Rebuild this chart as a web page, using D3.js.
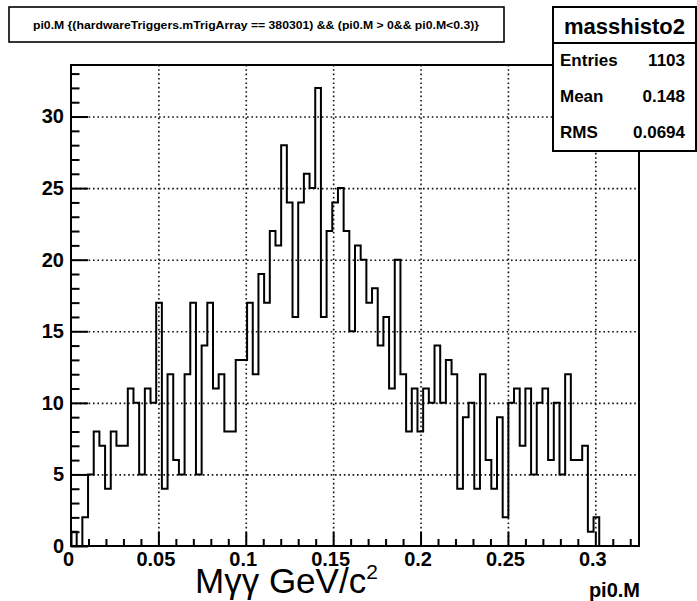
<!DOCTYPE html>
<html>
<head>
<meta charset="utf-8">
<script src="https://cdn.jsdelivr.net/npm/d3@7"></script>
<style>
    body { margin: 0; background: #fff; }
    svg { display: block; font-family: "Liberation Sans", Arial, Helvetica, sans-serif; }
</style>
</head>
<body>
<div id="chart"></div>
<script>
// Histogram contents (100 bins from 0 to 0.325).
var binCounts = [
    1, 0, 2, 5, 8, 7, 4, 8, 7, 7,
    11, 10, 5, 11, 10, 17, 4, 12, 6, 5,
    12, 17, 5, 14, 17, 11, 12, 8, 8, 13,
    13, 17, 12, 19, 17, 22, 21, 28, 24, 16,
    24, 26, 25, 32, 16, 22, 24, 25, 22, 15,
    21, 20, 17, 18, 14, 16, 11, 20, 12, 8,
    11, 8, 11, 10, 14, 10, 13, 12, 4, 9,
    10, 4, 12, 6, 4, 9, 2, 10, 11, 7,
    11, 5, 10, 11, 6, 10, 5, 12, 6, 6,
    7, 1, 2, 0, 0, 0, 0, 0, 0, 0
];
var xRange = [0, 0.325];
var yRange = [0, 33.6];

// Axis ticks and labels.
var xMajorTicks = [0, 0.05, 0.1, 0.15, 0.2, 0.25, 0.3];
var xTickLabels = ["0", "0.05", "0.1", "0.15", "0.2", "0.25", "0.3"];
var xMinorTicks = [0.01, 0.02, 0.03, 0.04, 0.06, 0.07, 0.08, 0.09, 0.11, 0.12, 0.13, 0.14,
    0.16, 0.17, 0.18, 0.19, 0.21, 0.22, 0.23, 0.24, 0.26, 0.27, 0.28, 0.29, 0.31, 0.32];
var yMajorTicks = [0, 5, 10, 15, 20, 25, 30];
var yMinorTicks = [1, 2, 3, 4, 6, 7, 8, 9, 11, 12, 13, 14, 16, 17, 18, 19,
    21, 22, 23, 24, 26, 27, 28, 29, 31, 32, 33];

// Texts.
var titleText = "pi0.M {(hardwareTriggers.mTrigArray == 380301) && (pi0.M > 0&& pi0.M<0.3)}";
var statsName = "masshisto2";
var statsRows = [["Entries", "1103"], ["Mean", "0.148"], ["RMS", "0.0694"]];
var axisName = "pi0.M";

// Frame geometry.
var width = 697, height = 601;
var frame = { left: 71, right: 639, top: 65, bottom: 546 };

var svg = d3.select("#chart").append("svg")
        .attr("width", width)
        .attr("height", height);

svg.append("rect")
        .attr("width", width)
        .attr("height", height)
        .style("fill", "#fff");

var x = d3.scaleLinear().domain(xRange).range([frame.left, frame.right]);
var y = d3.scaleLinear().domain(yRange).range([frame.bottom, frame.top]);
var frameW = frame.right - frame.left;
var frameH = frame.bottom - frame.top;

// Dotted grid at the major ticks.
var gridX = svg.append("g")
        .attr("transform", "translate(0," + frame.bottom + ")")
        .call(d3.axisBottom(x).tickValues(xMajorTicks.slice(1)).tickSize(-frameH).tickFormat(""));
var gridY = svg.append("g")
        .attr("transform", "translate(" + frame.left + ",0)")
        .call(d3.axisLeft(y).tickValues(yMajorTicks.slice(1)).tickSize(-frameW).tickFormat(""));
[gridX, gridY].forEach(function(g) {
    g.select(".domain").remove();
    g.selectAll("line")
            .style("stroke", "#111")
            .style("stroke-width", 1.6)
            .style("stroke-dasharray", "1.6,2.8");
});

// Histogram outline as a step path.
var binWidth = (xRange[1] - xRange[0]) / binCounts.length;
var pts = [[x(xRange[0]), y(0)]];
binCounts.forEach(function(c, i) {
    pts.push([x(xRange[0] + i * binWidth), y(c)]);
    pts.push([x(xRange[0] + (i + 1) * binWidth), y(c)]);
});
pts.push([x(xRange[1]), y(0)]);
svg.append("path")
        .attr("d", d3.line()(pts))
        .style("fill", "none")
        .style("stroke", "#000")
        .style("stroke-width", 2)
        .style("stroke-linejoin", "miter");

// Axes: ticks point into the frame.
var xAxis = svg.append("g")
        .attr("transform", "translate(0," + frame.bottom + ")")
        .call(d3.axisBottom(x).tickValues(xMajorTicks).tickSize(-14).tickPadding(6)
            .tickFormat(function(d, i) { return xTickLabels[i]; }));
var xMinor = svg.append("g")
        .attr("transform", "translate(0," + frame.bottom + ")")
        .call(d3.axisBottom(x).tickValues(xMinorTicks).tickSize(-7).tickFormat(""));
var yAxis = svg.append("g")
        .attr("transform", "translate(" + frame.left + ",0)")
        .call(d3.axisLeft(y).tickValues(yMajorTicks).tickSize(-17).tickPadding(7));
var yMinor = svg.append("g")
        .attr("transform", "translate(" + frame.left + ",0)")
        .call(d3.axisLeft(y).tickValues(yMinorTicks).tickSize(-8.5).tickFormat(""));
[xAxis, xMinor, yAxis, yMinor].forEach(function(g) {
    g.select(".domain").remove();
    g.selectAll("line").style("stroke", "#000").style("stroke-width", 2);
    g.selectAll("text")
            .style("font-family", "'Liberation Sans', Arial, sans-serif")
            .style("font-size", "20px")
            .style("font-weight", "bold")
            .style("fill", "#000");
});
xAxis.selectAll("text").attr("dx", -3);

// Frame.
svg.append("rect")
        .attr("x", frame.left)
        .attr("y", frame.top)
        .attr("width", frameW)
        .attr("height", frameH)
        .style("fill", "none")
        .style("stroke", "#000")
        .style("stroke-width", 2);

// Title box.
svg.append("rect")
        .attr("x", 9).attr("y", 7)
        .attr("width", 495).attr("height", 35)
        .style("fill", "#fff")
        .style("stroke", "#000")
        .style("stroke-width", 1.6);
svg.append("text")
        .attr("x", 256).attr("y", 28.5)
        .attr("text-anchor", "middle")
        .attr("textLength", 446)
        .attr("lengthAdjust", "spacingAndGlyphs")
        .style("font-size", "10.5px")
        .style("font-weight", "bold")
        .text(titleText);

// Stats box.
var stats = svg.append("g");
stats.append("rect")
        .attr("x", 553).attr("y", 7)
        .attr("width", 143).attr("height", 144)
        .style("fill", "#fff")
        .style("stroke", "#000")
        .style("stroke-width", 2);
stats.append("line")
        .attr("x1", 553).attr("x2", 696)
        .attr("y1", 43).attr("y2", 43)
        .style("stroke", "#000")
        .style("stroke-width", 2);
stats.append("text")
        .attr("x", 624.5).attr("y", 33.5)
        .attr("text-anchor", "middle")
        .style("font-size", "22px")
        .style("font-weight", "bold")
        .text(statsName);
statsRows.forEach(function(r, i) {
    stats.append("text")
            .attr("x", 560).attr("y", 66 + i * 36)
            .style("font-size", "17px")
            .style("font-weight", "bold")
            .text(r[0]);
    stats.append("text")
            .attr("x", 685).attr("y", 66 + i * 36)
            .attr("text-anchor", "end")
            .style("font-size", "17px")
            .style("font-weight", "bold")
            .text(r[1]);
});

// Axis title and the added mass label.
svg.append("text")
        .attr("x", 640).attr("y", 597)
        .attr("text-anchor", "end")
        .style("font-size", "20px")
        .style("font-weight", "bold")
        .text(axisName);
var mass = svg.append("text")
        .attr("x", 195).attr("y", 593)
        .style("font-size", "35px");
mass.append("tspan").text("M\u03b3\u03b3 GeV/c");
mass.append("tspan")
        .attr("dy", -14)
        .style("font-size", "21px")
        .text("2");
</script>
</body>
</html>
